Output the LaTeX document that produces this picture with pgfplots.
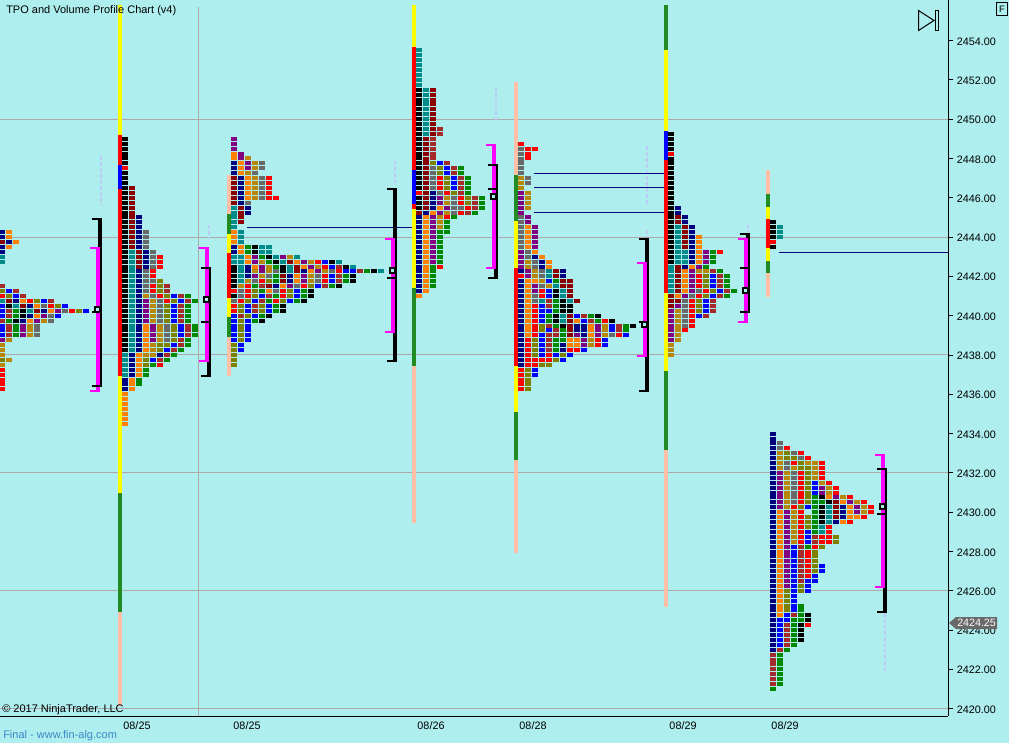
\documentclass[border=0pt]{standalone}
\usepackage{fontspec}
\setmainfont{Liberation Sans}
\usepackage{pgfplots}
\usepackage{pgfplotstable}
\pgfplotsset{compat=1.18}

\definecolor{bg}{HTML}{AFEEEE}
\definecolor{gridc}{HTML}{B0A8A8}
\definecolor{faint}{HTML}{BCCCF4}
\definecolor{finalc}{HTML}{3A87C8}
\definecolor{tagc}{HTML}{696969}
\definecolor{tpo0}{HTML}{000000}
\definecolor{tpo1}{HTML}{000080}
\definecolor{tpo2}{HTML}{0000FF}
\definecolor{tpo3}{HTML}{008B8B}
\definecolor{tpo4}{HTML}{800080}
\definecolor{tpo5}{HTML}{FF7F00}
\definecolor{tpo6}{HTML}{B8860B}
\definecolor{tpo7}{HTML}{696969}
\definecolor{tpo8}{HTML}{FF0000}
\definecolor{tpo9}{HTML}{8B0000}
\definecolor{tpo10}{HTML}{A52A2A}
\definecolor{tpo11}{HTML}{808000}
\definecolor{tpo12}{HTML}{008800}
\definecolor{tpo13}{HTML}{FFFF00}
\definecolor{tpo14}{HTML}{228B22}
\definecolor{tpo15}{HTML}{FFBFA6}
\definecolor{tpo16}{HTML}{FF00FF}

% x = pixel column, r = rows of 0.25 above 2420, n = rows in the run, c = colour
\pgfplotstableread{
x r n c
2 65 5 8
2 70 1 6
2 71 1 11
2 72 3 6
2 75 1 4
2 76 3 2
2 79 1 10
2 80 3 2
2 83 1 3
2 84 1 8
2 85 1 11
2 86 1 10
2 91 2 3
2 93 2 1
2 95 1 9
2 96 2 1
9 71 1 6
9 75 1 6
9 76 3 10
9 79 1 12
9 80 2 10
9 82 1 0
9 83 1 9
9 84 1 11
9 85 1 2
9 94 1 5
9 95 1 1
9 96 2 5
16 76 3 12
16 79 1 0
16 80 2 12
16 82 1 3
16 83 1 1
16 84 1 2
16 85 1 10
16 95 1 5
23 76 3 4
23 79 1 1
23 80 2 0
23 82 1 9
23 83 1 5
23 84 1 10
30 76 3 6
30 79 1 5
30 80 1 1
30 81 1 3
30 82 1 1
30 83 1 8
37 76 3 7
37 79 1 4
37 80 1 5
37 81 1 9
37 82 1 5
37 83 1 11
44 79 1 6
44 80 1 4
44 81 1 1
44 82 1 7
44 83 1 2
51 79 1 7
51 80 1 7
51 81 1 5
51 82 1 8
51 83 1 10
58 80 1 2
58 81 1 4
58 82 1 11
65 81 1 7
65 82 1 2
72 81 1 8
79 81 1 11
86 81 1 2
125 58 7 5
125 65 3 1
125 68 5 3
125 73 37 0
125 110 1 8
125 111 6 0
132 65 3 5
132 68 5 1
132 73 21 3
132 94 13 9
139 66 2 12
139 68 5 5
139 73 17 1
139 90 4 9
139 94 7 1
146 68 2 12
146 70 2 11
146 72 1 6
146 73 6 5
146 79 5 4
146 84 1 6
146 85 5 7
146 90 4 1
146 94 4 7
153 70 1 12
153 71 1 2
153 72 3 6
153 75 4 4
153 79 5 6
153 84 1 7
153 85 2 8
153 87 1 7
153 88 2 8
153 90 4 7
160 70 1 8
160 71 1 10
160 72 1 1
160 73 2 11
160 75 4 6
160 79 5 7
160 84 1 8
160 85 3 11
160 90 3 8
167 71 1 12
167 72 1 10
167 73 1 2
167 74 1 11
167 75 4 7
167 79 4 11
167 83 1 8
167 84 1 11
167 85 2 10
174 72 1 12
174 73 1 10
174 74 1 2
174 75 4 11
174 79 4 2
174 83 1 11
174 84 1 2
181 73 1 12
181 74 2 10
181 76 3 2
181 79 4 10
181 83 1 2
181 84 1 10
188 74 2 12
188 76 3 10
188 79 4 12
188 83 1 10
188 84 1 12
195 76 3 12
195 83 1 12
234 70 5 11
234 75 6 2
234 81 2 8
234 83 1 7
234 84 1 0
234 85 1 8
234 86 5 0
234 91 2 3
234 93 2 1
234 95 3 5
234 98 5 3
234 103 6 9
234 109 3 1
234 112 2 5
234 114 3 4
241 73 2 2
241 75 5 11
241 80 1 10
241 81 2 11
241 83 1 8
241 84 2 7
241 86 1 6
241 87 6 3
241 93 2 5
241 95 3 3
241 99 4 9
241 103 6 1
241 109 3 5
241 112 2 4
248 75 5 2
248 80 1 11
248 81 2 2
248 83 1 11
248 84 3 8
248 87 1 6
248 88 3 1
248 91 2 5
248 93 2 12
248 101 2 1
248 103 1 7
248 104 5 5
248 109 1 6
248 110 2 4
248 112 1 6
255 79 1 12
255 80 1 2
255 81 2 10
255 83 1 2
255 84 2 11
255 86 1 12
255 87 1 7
255 88 1 4
255 89 1 6
255 90 1 5
255 91 2 4
255 93 2 0
255 104 5 6
255 109 1 7
255 110 2 6
262 79 1 0
262 80 1 12
262 81 2 11
262 83 1 10
262 84 1 2
262 85 1 12
262 86 1 10
262 87 1 8
262 88 1 6
262 89 2 4
262 91 1 6
262 92 1 12
262 93 2 3
262 104 5 7
262 110 2 7
269 80 1 0
269 81 2 2
269 83 1 12
269 84 1 10
269 85 1 5
269 86 1 9
269 87 1 11
269 88 1 7
269 89 2 6
269 91 1 12
269 92 1 0
269 93 2 3
269 104 5 8
276 81 2 12
276 83 1 8
276 84 1 12
276 85 1 7
276 86 1 1
276 87 2 12
276 89 1 7
276 90 1 12
276 91 1 0
276 92 1 3
276 104 1 8
283 81 2 0
283 83 1 11
283 84 2 8
283 86 1 5
283 87 2 9
283 89 2 0
283 91 1 3
283 92 1 4
290 83 1 2
290 84 2 11
290 86 1 4
290 87 2 1
290 89 2 3
290 91 1 9
290 92 1 6
297 83 1 12
297 84 2 2
297 86 1 7
297 87 2 5
297 89 2 9
297 91 1 5
297 92 1 3
304 83 1 0
304 84 2 12
304 86 1 8
304 87 2 4
304 89 1 1
304 90 1 5
304 91 1 4
311 84 2 0
311 86 1 11
311 87 2 6
311 89 1 5
311 90 1 4
311 91 1 6
318 86 1 2
318 87 2 7
318 89 1 4
318 90 1 6
318 91 1 8
325 86 1 10
325 87 2 8
325 89 1 6
325 90 1 8
325 91 1 2
332 86 1 12
332 87 2 2
332 89 1 7
332 90 1 2
332 91 1 0
339 86 1 0
339 87 2 10
339 89 1 8
339 90 1 10
339 91 1 3
346 87 2 12
346 89 1 2
346 90 1 0
353 87 2 0
353 89 1 2
353 90 1 3
360 89 1 10
367 89 1 12
374 89 1 0
381 89 1 3
419 84 1 5
419 85 16 1
419 101 1 9
419 102 3 0
419 105 1 8
419 106 21 0
419 127 8 3
426 85 16 5
426 101 1 1
426 102 15 9
426 117 10 3
433 86 5 12
433 91 10 4
433 101 1 5
433 102 4 1
433 106 5 7
433 111 1 11
433 112 5 10
433 117 10 9
440 90 1 8
440 91 7 12
440 98 3 6
440 101 1 4
440 102 1 5
440 103 2 4
440 105 1 7
440 106 3 8
440 109 2 11
440 111 1 2
440 117 2 10
447 97 3 12
447 100 1 8
447 101 1 6
447 102 1 4
447 103 2 6
447 105 1 8
447 106 3 11
447 109 2 2
447 111 1 10
454 100 1 12
454 101 4 7
454 105 1 11
454 106 3 2
454 109 2 10
461 101 1 8
461 102 1 7
461 103 2 8
461 105 4 10
461 109 2 12
468 101 1 10
468 102 1 8
468 103 2 11
468 105 4 12
475 101 1 12
475 102 3 10
482 102 3 12
521 65 5 8
521 70 18 1
521 88 1 8
521 89 1 1
521 90 4 4
521 94 7 7
521 101 5 4
521 106 3 6
521 109 6 7
521 115 1 8
528 65 5 11
528 70 6 8
528 76 12 5
528 88 2 4
528 90 2 6
528 92 2 7
528 94 5 5
528 99 2 4
528 102 4 6
528 107 2 7
528 112 3 8
535 68 2 2
535 70 2 8
535 72 4 11
535 76 7 8
535 83 2 7
535 85 2 4
535 87 1 5
535 88 2 6
535 90 2 7
535 92 1 1
535 93 1 5
535 94 5 4
535 114 1 8
542 70 1 11
542 71 1 8
542 72 5 2
542 77 2 11
542 79 4 2
542 83 1 3
542 84 2 8
542 86 1 7
542 87 1 6
542 88 2 7
542 90 2 1
542 92 1 5
549 70 1 11
549 71 2 8
549 73 4 10
549 77 1 2
549 78 1 10
549 79 2 12
549 81 1 2
549 82 2 10
549 84 2 2
549 86 1 6
549 87 1 2
549 88 2 3
549 90 2 5
556 71 1 11
556 72 1 2
556 73 3 12
556 76 2 10
556 78 1 12
556 79 2 0
556 81 2 12
556 83 1 12
556 84 2 0
556 86 1 3
556 87 1 12
556 88 2 9
563 71 1 2
563 72 1 11
563 73 2 1
563 75 3 12
563 78 1 0
563 79 2 3
563 81 3 0
563 84 2 3
563 86 2 9
563 88 2 1
570 72 1 2
570 73 1 8
570 74 2 5
570 76 5 9
570 81 2 0
570 83 1 3
570 84 4 9
577 73 1 8
577 74 2 5
577 76 1 4
577 77 2 1
577 79 1 5
577 80 1 2
577 83 1 9
584 73 1 2
584 74 2 4
584 76 3 1
584 79 1 2
584 80 1 10
591 74 2 6
591 76 3 5
591 79 1 10
591 80 1 12
598 74 2 8
598 76 3 4
598 79 1 12
598 80 1 0
605 74 2 2
605 76 3 6
605 79 1 8
612 76 1 7
612 77 2 2
612 79 1 0
619 76 1 8
619 77 2 10
626 76 1 2
626 77 2 12
633 78 1 0
671 72 3 6
671 75 7 4
671 82 3 9
671 85 6 3
671 91 22 0
671 113 1 8
671 114 4 0
678 75 7 6
678 82 1 4
678 83 1 9
678 84 1 5
678 85 6 9
678 91 8 3
678 99 2 9
678 101 2 1
685 77 1 8
685 78 6 7
685 84 1 4
685 85 5 5
685 90 1 1
685 91 3 3
685 94 5 9
685 99 2 1
692 78 6 8
692 84 1 7
692 85 5 4
692 90 1 5
692 91 8 1
699 80 1 2
699 81 3 11
699 84 1 8
699 85 1 7
699 86 3 8
699 89 1 6
699 90 1 4
699 91 6 5
706 80 1 10
706 81 3 2
706 84 1 11
706 85 1 8
706 86 3 11
706 89 1 6
706 90 1 12
706 91 3 4
713 81 3 10
713 84 1 2
713 85 1 11
713 86 3 2
713 89 1 10
713 91 3 12
720 84 1 10
720 85 1 2
720 86 3 10
720 89 1 12
720 93 1 8
727 84 1 12
727 85 1 10
727 86 3 12
734 85 1 12
773 94 1 0
773 95 1 8
773 96 4 0
780 96 3 3
773 4 1 12
773 5 7 10
773 12 45 1
780 5 7 12
780 12 1 10
780 13 6 2
780 19 22 5
780 41 8 4
780 49 4 6
780 53 2 7
787 12 1 12
787 13 5 10
787 18 2 2
787 20 5 11
787 25 16 4
787 41 8 6
787 49 2 7
787 51 2 11
787 53 1 8
794 13 6 12
794 19 1 10
794 20 14 2
794 34 7 6
794 41 1 8
794 42 7 7
794 49 1 6
794 50 1 8
794 51 1 11
794 52 1 7
801 14 4 0
801 18 4 12
801 24 2 11
801 26 8 10
801 34 7 8
801 41 1 11
801 42 7 8
801 49 2 11
801 51 1 7
801 52 1 8
808 17 1 8
808 18 2 0
808 24 3 2
808 27 6 8
808 33 1 12
808 34 3 2
808 37 3 11
808 41 1 2
808 42 8 11
808 50 1 6
808 51 1 8
815 26 2 2
815 28 5 11
815 33 1 8
815 34 2 10
815 36 6 12
815 42 2 12
815 44 3 2
815 47 4 6
822 28 2 2
822 33 1 11
822 34 2 8
822 36 2 3
822 38 4 0
822 42 1 12
822 43 1 0
822 44 2 4
822 46 1 6
822 47 4 8
829 34 4 8
829 38 4 3
829 42 1 0
829 43 1 5
829 44 2 6
829 46 1 8
836 34 2 11
836 38 1 1
836 39 4 9
836 43 1 4
836 44 2 8
843 38 1 5
843 39 3 1
843 42 1 5
843 43 1 6
850 38 1 8
850 39 3 5
850 42 1 4
850 43 1 8
857 39 1 5
857 40 2 4
857 42 1 6
864 39 1 8
864 40 2 6
864 42 1 8
871 40 2 8
}\blocks

% vertical range bars and brackets
\pgfplotstableread{
x r n c
120 0.5 19.2 15
120 19.7 24.2 14
120 43.9 23.8 13
120 67.7 38.1 8
120 105.8 4.9 2
120 110.7 6.1 8
120 116.8 26.4 13
229 67.7 8 15
229 75.7 4 14
229 79.7 3.9 13
229 83.6 9.2 8
229 92.8 3.8 13
229 96.6 4.1 14
229 100.7 7.9 15
414 37.8 32 15
414 69.8 15.8 14
414 85.6 16.1 13
414 101.7 1 8
414 102.7 7 2
414 109.7 25 8
414 134.7 8.5 13
516 31.7 18.9 15
516 50.6 9.8 14
516 60.4 9.4 13
516 69.8 19.9 8
516 89.7 9.6 13
516 99.3 9.3 14
516 108.6 19 15
666 20.7 32 15
666 52.7 16 14
666 68.7 15.9 13
666 84.6 27.1 8
666 111.7 5.9 2
666 117.6 16.5 13
666 134.1 9.1 14
768 83.8 4.9 15
768 88.7 2.4 14
768 91.1 2.7 13
768 93.8 5.9 8
768 99.7 2.4 13
768 102.1 2.7 14
768 104.8 4.9 15
100 65.49 34.4 0
98 64.47 29.52 16
209 67.53 22.39 0
207 70.57 23.41 16
395 70.57 35.42 0
393 76.48 19.34 16
496 87.49 23.41 0
494 89.51 25.45 16
647 64.47 31.35 0
645 71.59 19.34 16
748 80.55 16.28 0
746 78.51 17.3 16
885 19.48 29.52 0
883 24.57 27.28 16
}\bars

% bracket ticks: x = left end, n = length in pixels
\pgfplotstableread{
x r n c
92 99.69 8 0
92 80.76 8 0
92 65.69 8 0
90 93.78 8 16
90 64.67 8 16
201 89.71 8 0
201 78.72 8 0
201 67.73 8 0
199 93.78 8 16
199 70.78 8 16
387 105.79 8 0
387 87.67 8 0
387 70.78 8 0
385 95.61 8 16
385 76.68 8 16
488 110.68 8 0
488 105.79 8 0
488 87.67 8 0
486 114.75 8 16
486 89.71 8 16
639 95.61 8 0
639 78.72 8 0
639 64.67 8 0
637 90.73 8 16
637 71.79 8 16
740 96.63 8 0
740 89.71 8 0
740 80.76 8 0
738 95.61 8 16
738 78.72 8 16
877 48.79 8 0
877 39.63 8 0
877 19.68 8 0
875 51.64 8 16
875 24.77 8 16
}\ticksT

\begin{document}
\begin{tikzpicture}
\useasboundingbox (0,0) rectangle (756.75pt,557.25pt);
\fill[bg] (0,0) rectangle (756.75pt,557.25pt);
\begin{axis}[
  at={(0pt,20.25pt)}, anchor=south west,
  scale only axis, width=711pt, height=537pt,
  xmin=0, xmax=948, ymin=2419.6285, ymax=2456.0662,
  axis x line*=bottom, axis y line*=right,
  axis line style={line width=.75pt, -},
  xtick={137,247,431,533,683,785},
  xticklabels={08/25,08/25,08/26,08/28,08/29,08/29},
  x tick style={draw=none},
  ytick={2420,2422,...,2454},
  tick align=outside, major tick length=3.75pt,
  y tick style={line width=.75pt, black},
  tick label style={font=\fontsize{8.1}{10}\selectfont},
  xticklabel style={yshift=3pt},
  yticklabel style={xshift=-0.7pt, yshift=-0.6pt},
  /pgf/number format/assume math mode=true,
  /pgf/number format/.cd, fixed, fixed zerofill, precision=2, 1000 sep={},
  /pgfplots/.cd,
  unbounded coords=jump,
]
% grid
\pgfplotsinvokeforeach{2420,2426,2432,2438,2444,2450}{
  \addplot[forget plot, gridc, line width=.75pt] coordinates {(0,#1)(948,#1)};
}
\addplot[forget plot, gridc, line width=.75pt] coordinates {(198,2419.63)(198,2455.7)};
% faint marks above the brackets
\addplot[forget plot, faint, line width=1.1pt, dash pattern=on 3pt off 1.5pt] coordinates {
  (101,2448.13)(101,2445.68)(101,nan)
  (209,2444.62)(209,2443.9)(209,nan)
  (395,2447.87)(395,2446.65)(395,nan)
  (496,2451.64)(496,2449.96)(496,nan)
  (647,2448.64)(647,2445.68)(647,nan)
  (647,2444.36)(647,2444)(647,nan)
  (748,2444.62)(748,2443.9)(748,nan)
  (885,2424.87)(885,2421.92)};
% untested levels
\addplot[forget plot, tpo1, line width=.75pt] coordinates {
  (247,2444.49)(414,2444.49)(414,nan)
  (534,2447.26)(664,2447.26)(664,nan)
  (534,2446.5)(664,2446.5)(664,nan)
  (534,2445.23)(664,2445.23)(664,nan)
  (779,2443.22)(948,2443.22)};
% range bars and bracket spines
\pgfplotsinvokeforeach{15,14,13,8,2,0,16}{
  \addplot[forget plot, draw=none, mark=none,
    error bars/.cd, y dir=plus, y explicit, error mark=none,
    error bar style={draw=tpo#1, line width=3pt, solid}]
    table[x expr={\thisrow{c}==#1 ? \thisrow{x} : nan},
          y expr={2420+\thisrow{r}/4},
          y error plus expr={\thisrow{n}/4}] {\bars};
}
% bracket ticks
\pgfplotsinvokeforeach{0,16}{
  \addplot[forget plot, draw=none, mark=none,
    error bars/.cd, x dir=plus, x explicit, error mark=none,
    error bar style={draw=tpo#1, line width=1.5pt, solid}]
    table[x expr={\thisrow{c}==#1 ? \thisrow{x} : nan},
          y expr={2420+\thisrow{r}/4},
          x error plus expr={\thisrow{n}}] {\ticksT};
}
% TPO blocks, one dash per row
\pgfplotsinvokeforeach{0,...,12}{
  \addplot[forget plot, draw=none, mark=none,
    error bars/.cd, y dir=plus, y explicit, error mark=none,
    error bar style={draw=tpo#1, line width=4.5pt, dash pattern=on 3pt off 0.684pt}]
    table[x expr={\thisrow{c}==#1 ? \thisrow{x} : nan},
          y expr={2420+\thisrow{r}/4-0.1018},
          y error plus expr={\thisrow{n}/4-0.0464}] {\blocks};
}
% point of control squares
\addplot[forget plot, only marks, mark=square*, mark size=1.875pt, line width=1.5pt,
  mark options={draw=black, fill=bg, solid}] coordinates {
  (97.5,2440.32)(206.5,2440.8)(392.5,2442.3)(493.5,2446.07)
  (644.5,2439.55)(745.5,2441.28)(882.5,2430.29)};
\end{axis}
\begin{scope}[shift={(0pt,557.25pt)}, x=.75pt, y=-.75pt,
  txt/.style={anchor=west, inner sep=0pt, font=\fontsize{8.25}{10}\selectfont}]
  \node[txt] at (6,11) {TPO and Volume Profile Chart (v4)};
  \node[txt] at (2,710) {© 2017 NinjaTrader, LLC};
  \node[txt, text=finalc] at (3,736) {Final - www.fin-alg.com};
  \draw[black, line width=.75pt] (918.5,10.5) -- (918.5,30.5) -- (934,20.5) -- cycle;
  \draw[black, line width=.75pt] (935.5,10.5) rectangle (938.5,30.5);
  \draw[black, line width=.75pt] (996.5,2.5) rectangle (1007.5,15.5);
  \node[anchor=center, inner sep=0pt, font=\fontsize{7}{8}\selectfont] at (1002,9) {F};
  \fill[tagc] (949,623) -- (956,617) -- (997,617) -- (997,629) -- (956,629) -- cycle;
  \node[txt, text=white, font=\fontsize{8}{10}\selectfont] at (957,623) {2424.25};
\end{scope}
\end{tikzpicture}
\end{document}
